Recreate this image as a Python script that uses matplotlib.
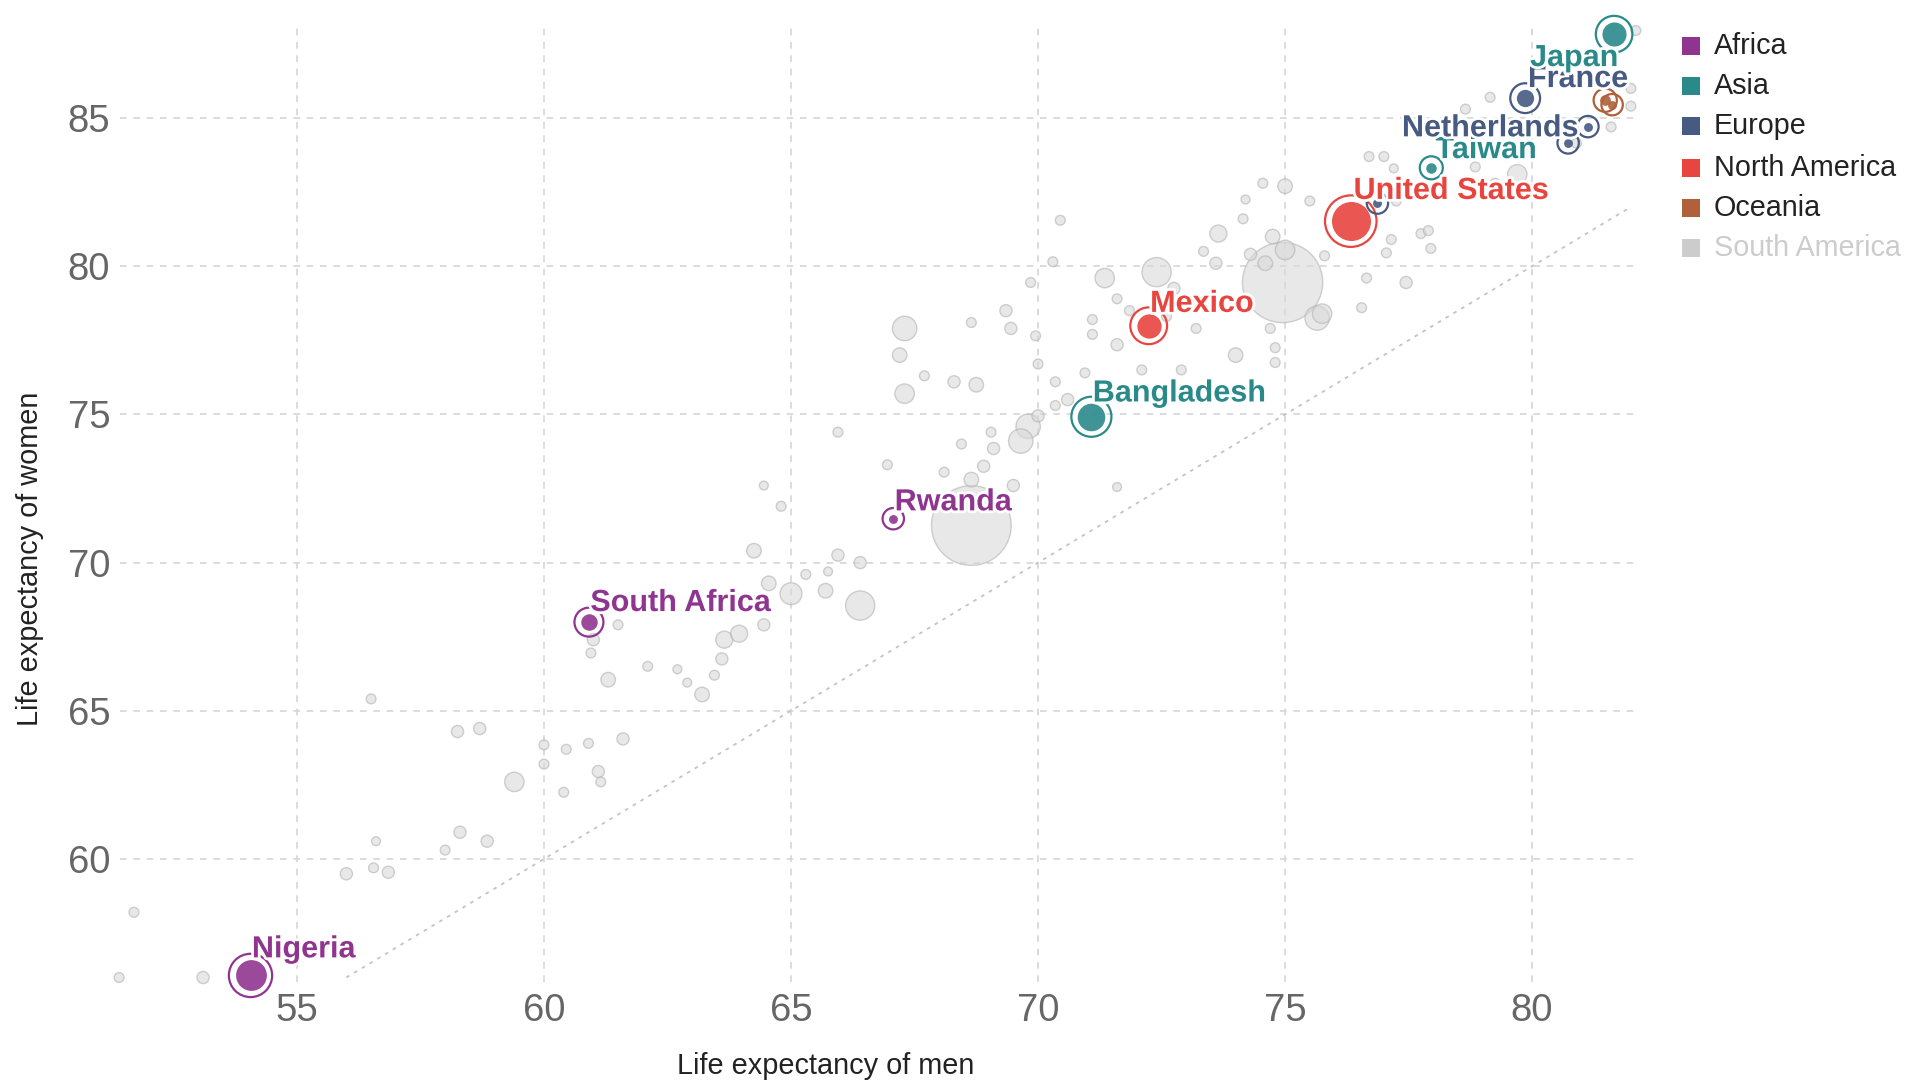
import numpy as np
import matplotlib.pyplot as plt
import matplotlib.patheffects as pe
from matplotlib.patches import Rectangle

# continents shown in the legend
continents = ["Africa", "Asia", "Europe", "North America", "Oceania", "South America"]
continent_colors = ["#8f3590", "#2a8a8a", "#465a82", "#e8453f", "#b0603a", "#cccccc"]

# highlighted countries: men, women life expectancy, population (millions)
hl_names = ["Nigeria", "South Africa", "Rwanda", "Bangladesh", "Mexico", "United States",
            "Taiwan", "Netherlands", "France", "Japan", "", "", "", ""]
hl_cont = ["Africa", "Africa", "Africa", "Asia", "North America", "North America",
           "Asia", "Europe", "Europe", "Asia", "Europe", "Europe", "Oceania", "Oceania"]
hl_men = [54.06, 60.91, 67.07, 71.08, 72.24, 76.33, 77.96, 81.13, 79.86, 81.66, 80.73, 76.87, 81.48, 81.62]
hl_women = [56.07, 67.99, 71.48, 74.92, 77.99, 81.52, 83.32, 84.71, 85.67, 87.83, 84.16, 82.13, 85.6, 85.45]
hl_pop = [206, 59, 13, 165, 128, 331, 24, 17, 65, 126, 11, 10, 25, 5]

# other countries (grey)
men = [51.4, 51.7, 53.1, 56.5, 56.0, 56.55, 56.85, 56.6, 58.0, 58.3, 58.85, 58.25, 58.7, 59.4,
       60.0, 60.0, 60.4, 60.45, 60.9, 61.1, 61.15, 61.6,
       61.0, 60.95, 61.5, 61.3, 62.1, 62.7, 62.9, 63.2, 63.45, 63.6, 63.65, 63.95, 64.45, 64.55,
       64.25, 65.0, 65.7, 65.3, 65.95, 66.4, 66.4, 65.75, 64.45, 64.8, 65.95, 66.95, 68.1, 68.65,
       68.65, 68.45, 68.9,
       67.3, 67.2, 67.3, 67.7, 68.3, 68.75, 68.65, 69.35, 69.45, 69.85, 69.8, 69.65, 69.1, 69.05,
       69.5, 69.95, 70.0, 70.35, 70.35, 70.0, 70.6, 70.95, 71.6, 70.45, 70.3, 71.35, 71.6, 71.1,
       71.1, 71.6, 71.85, 72.1,
       72.4, 72.75, 72.6, 72.9, 73.2, 73.35, 73.65, 73.6, 74.0, 74.15, 74.2, 74.55, 75.0, 74.3,
       74.6, 74.75, 75.0, 74.95, 74.7, 74.8, 74.8, 75.65, 75.75, 75.5, 75.8, 76.65, 76.55, 77.25,
       77.45, 77.15, 77.05, 76.7, 77.0, 77.2, 77.9, 77.95, 77.75, 79.7, 79.25, 78.85, 78.65, 79.15,
       79.4, 80.9, 82.0, 82.0, 81.6, 82.1, 81.45]
women = [56.0, 58.2, 56.0, 65.4, 59.5, 59.7, 59.55, 60.6, 60.3, 60.9, 60.6, 64.3, 64.4, 62.6,
         63.2, 63.85, 62.25, 63.7, 63.9, 62.95, 62.6, 64.05,
         67.4, 66.95, 67.9, 66.05, 66.5, 66.4, 65.95, 65.55, 66.2, 66.75, 67.4, 67.6, 67.9, 69.3,
         70.4, 68.95, 69.05, 69.6, 70.25, 70.0, 68.55, 69.7, 72.6, 71.9, 74.4, 73.3, 73.05, 72.8,
         71.25, 74.0, 73.25,
         77.9, 77.0, 75.7, 76.3, 76.1, 76.0, 78.1, 78.5, 77.9, 79.45, 74.6, 74.1, 73.85, 74.4,
         72.6, 77.65, 76.7, 76.1, 75.3, 74.95, 75.5, 76.4, 72.55, 81.55, 80.15, 79.6, 78.9, 78.2,
         77.7, 77.35, 78.5, 76.5,
         79.8, 79.25, 78.3, 76.5, 77.9, 80.5, 81.1, 80.1, 77.0, 81.6, 82.25, 82.8, 82.7, 80.4,
         80.1, 81.0, 80.55, 79.45, 77.9, 77.25, 76.75, 78.25, 78.4, 82.2, 80.35, 79.6, 78.6, 82.2,
         79.45, 80.9, 80.45, 83.7, 83.7, 83.3, 81.2, 80.6, 81.1, 83.1, 82.8, 83.35, 85.3, 85.7,
         83.85, 84.15, 86.0, 85.4, 84.7, 87.95, 86.5]
pop = [21, 21, 32, 21, 32, 21, 32, 12, 21, 32, 32, 32, 32, 82,
       21, 21, 21, 21, 21, 32, 21, 32,
       32, 21, 21, 46, 21, 12, 12, 46, 21, 32, 63, 63, 32, 46,
       46, 104, 46, 21, 32, 32, 185, 12, 12, 21, 21, 21, 21, 46,
       1380, 21, 32,
       129, 46, 82, 21, 32, 46, 21, 32, 32, 21, 129, 129, 32, 21,
       32, 21, 21, 21, 21, 32, 32, 21, 12, 21, 21, 82, 21, 21,
       21, 32, 21, 21,
       185, 32, 21, 21, 21, 21, 63, 32, 46, 21, 12, 21, 46, 32,
       46, 46, 82, 1400, 21, 21, 21, 129, 82, 21, 21, 21, 21, 21,
       32, 21, 21, 21, 21, 12, 21, 21, 21, 82, 21, 21, 21, 21,
       21, 21, 21, 21, 21, 21, 12]

# label offsets in points (x, y) and alignment
label_pos = {
    "Nigeria": (1, 13, "left"), "South Africa": (1, 8, "left"), "Rwanda": (1, 6, "left"),
    "Bangladesh": (1, 11, "left"), "Mexico": (1, 10, "left"), "United States": (2, 16, "left"),
    "Taiwan": (3, 7, "left"), "Netherlands": (-7, -7, "right"), "France": (2, 8, "left"),
    "Japan": (3, -23, "right"),
}


def radius(p):
    # marker radius in points, area proportional to population
    return np.maximum(28.9 * np.sqrt(np.asarray(p, float) / 1400), 3.2)


fig = plt.figure(figsize=(19.06, 10.83), dpi=100)
ax = fig.add_axes([0.063, 0.0933, 0.795, 0.8864])
ax.set_xlim(51.42, 82.09)
ax.set_ylim(55.85, 88.24)

ax.set_xticks([55, 60, 65, 70, 75, 80])
ax.set_yticks([60, 65, 70, 75, 80, 85])
ax.grid(True, color="#d6d6d6", linewidth=1.2, linestyle=(0, (4, 4)))
ax.set_axisbelow(True)
for s in ax.spines.values():
    s.set_visible(False)
ax.tick_params(length=0, labelsize=27.5, labelcolor="#666666")
ax.tick_params(axis="x", pad=8)
ax.tick_params(axis="y", pad=7)
for t in ax.get_xticklabels() + ax.get_yticklabels():
    t.set_fontfamily("Liberation Sans")

# equal life expectancy line
ax.plot([56, 82], [56, 82], color="#c4c4c4", linewidth=1.3, linestyle=(0, (2, 3)), zorder=1)

# grey countries, big ones behind
order = np.argsort(pop)[::-1]
gx = np.array(men)[order]
gy = np.array(women)[order]
gr = radius(np.array(pop)[order])
ax.scatter(gx, gy, s=(2 * gr) ** 2, facecolor=(0.85, 0.85, 0.85, 0.6),
           edgecolor=(0.7, 0.7, 0.7, 0.6), linewidth=1.0, zorder=2, clip_on=False)

# highlighted countries
cmap = dict(zip(continents, continent_colors))
hr = radius(hl_pop)
for i in range(len(hl_men)):
    c = cmap[hl_cont[i]]
    ax.scatter(hl_men[i], hl_women[i], s=(2 * hr[i]) ** 2, color=c, alpha=0.9,
               linewidth=0, zorder=4, clip_on=False)
    ax.scatter(hl_men[i], hl_women[i], s=(2 * (hr[i] + 4.5)) ** 2, facecolor="none",
               edgecolor=c, linewidth=1.6, zorder=4, clip_on=False)

for i, name in enumerate(hl_names):
    if not name:
        continue
    dx, dy, ha = label_pos[name]
    ax.annotate(name, (hl_men[i], hl_women[i]), xytext=(dx, dy), textcoords="offset points",
                ha=ha, va="baseline", fontsize=22, fontweight="bold",
                fontfamily="Liberation Sans", color=cmap[hl_cont[i]], zorder=6,
                path_effects=[pe.withStroke(linewidth=4, foreground="white")])

# axis titles
fig.text(0.433, 0.0157, "Life expectancy of men", ha="center", va="center",
         fontsize=20.8, fontfamily="Liberation Sans", color="#222222")
fig.text(0.0159, 0.4838, "Life expectancy of women", ha="center", va="center", rotation=90,
         fontsize=20.8, fontfamily="Liberation Sans", color="#222222")

# legend
row_y = [46, 86, 126, 168, 208, 248]
for name, col, yy in zip(continents, continent_colors, row_y):
    yf = 1 - yy / 1083
    fig.patches.append(Rectangle((1682 / 1906, yf - 9 / 1083), 18 / 1906, 18 / 1083,
                                 transform=fig.transFigure, facecolor=col, edgecolor="none"))
    fig.text(1714 / 1906, yf, name, ha="left", va="center", fontsize=20.7,
             fontfamily="Liberation Sans",
             color="#cccccc" if name == "South America" else "#222222")

fig.savefig("out.png", dpi=100)
